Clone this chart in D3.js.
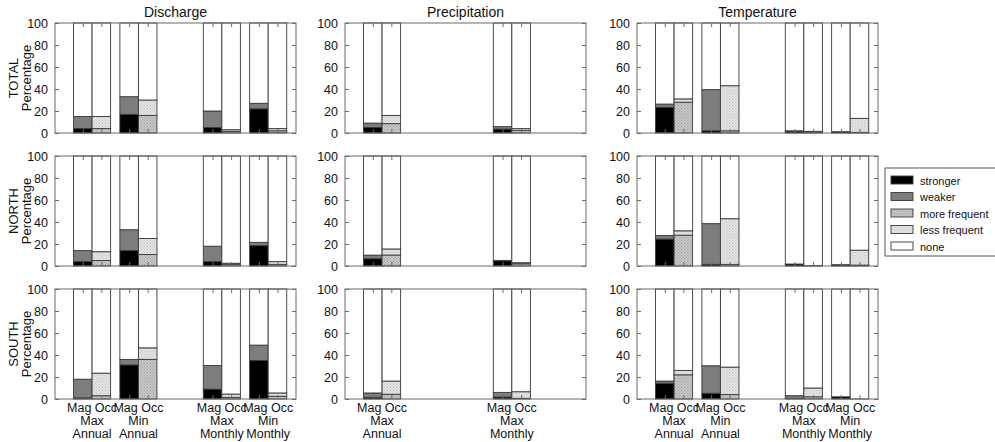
<!DOCTYPE html>
<html>
<head>
<meta charset="utf-8">
<script src="https://cdn.jsdelivr.net/npm/d3@7"></script>
<style>
  body { margin: 0; background: #fff; }
  #chart { width: 995px; height: 442px; }
  text { font-family: "Liberation Sans", Arial, sans-serif; fill: #111; }
</style>
</head>
<body>
<div id="chart"></div>
<script>

// categories
const variables = ["Discharge", "Precipitation", "Temperature"];
const regions = ["TOTAL", "NORTH", "SOUTH"];
const groupNames = [["Max", "Annual"], ["Min", "Annual"], ["Max", "Monthly"], ["Min", "Monthly"]];
// x of each group in the original axis units (Mag bar starts here, Occ bar follows)
const groupX = [1, 3.5, 8, 10.5];
const yTicks = [0, 20, 40, 60, 80, 100];
const categories = ["stronger", "weaker", "more frequent", "less frequent", "none"];

// values, rows = TOTAL, NORTH, SOUTH ; columns = groups (null = not shown)
const dischargeStronger = [[4, 17, 5, 22], [4, 14, 4, 18.5], [1, 31, 9, 35]];
const dischargeWeaker   = [[11, 16, 15, 5], [10, 19, 14, 3], [17, 5, 21.5, 14]];
const dischargeMore     = [[4, 16, 1.5, 2], [5, 10.5, 1.5, 1.5], [3, 36, 1.5, 2.5]];
const dischargeLess     = [[11, 14, 1.5, 2], [8, 14.5, 1, 2.5], [20.5, 10.5, 3, 3]];

const precipStronger = [[5, null, 3.6, null], [6.6, null, 4.8, null], [1.5, null, 1.8, null]];
const precipWeaker   = [[4, null, 2.2, null], [3.3, null, 0.3, null], [4, null, 4.2, null]];
const precipMore     = [[8.5, null, 2.4, null], [10, null, 2, null], [4.3, null, 0.6, null]];
const precipLess     = [[7.5, null, 1.6, null], [5.5, null, 1, null], [12, null, 6, null]];

const tempStronger = [[23.3, 2, 1.5, 1.2], [24.5, 1.5, 1.8, 1.2], [14.3, 5.2, 0.5, 2]];
const tempWeaker   = [[3, 37.4, 0.5, 0], [3.3, 37, 0, 0], [2, 25, 2.5, 0]];
const tempMore     = [[28, 2, 1, 0.6], [28, 1.5, 0.3, 0.8], [22, 4, 2, 0]];
const tempLess     = [[3, 41, 0.5, 12.7], [4, 41.5, 0, 13.6], [4, 25, 8, 0]];

const panelData = [
  [dischargeStronger, dischargeWeaker, dischargeMore, dischargeLess],
  [precipStronger, precipWeaker, precipMore, precipLess],
  [tempStronger, tempWeaker, tempMore, tempLess]
];

const width = 995, height = 442;
const colLeft = [55, 345, 637];
const rowTop = [23, 156, 289];
const pw = 241, ph = 110;

const svg = d3.select("#chart").append("svg")
    .attr("width", width)
    .attr("height", height);

/*
PATTERNS FOR HATCHED FILLS
*/
const defs = svg.append("defs");
function dotPattern(id, base, dot) {
    const p = defs.append("pattern")
        .attr("id", id)
        .attr("width", 3).attr("height", 3)
        .attr("patternUnits", "userSpaceOnUse");
    p.append("rect").attr("width", 3).attr("height", 3).attr("fill", base);
    p.append("rect").attr("x", 0).attr("y", 0).attr("width", 1).attr("height", 1).attr("fill", dot);
    p.append("rect").attr("x", 1.5).attr("y", 1.5).attr("width", 1).attr("height", 1).attr("fill", dot);
}
dotPattern("moreHatch", "#c8c8c8", "#999");
dotPattern("lessHatch", "#e4e4e4", "#c2c2c2");

const fills = {
    "stronger": "#000",
    "weaker": "#7d7d7d",
    "more frequent": "url(#moreHatch)",
    "less frequent": "url(#lessHatch)",
    "none": "#fff"
};

const yScale = d3.scaleLinear().domain([0, 100]);

variables.forEach(function(v, c) {
    const xScale = d3.scaleLinear()
        .domain([0, 13])
        .range([colLeft[c], colLeft[c] + pw]);

    // title
    svg.append("text")
        .attr("x", colLeft[c] + pw / 2)
        .attr("y", 17)
        .attr("text-anchor", "middle")
        .style("font-size", "14px")
        .text(v);

    regions.forEach(function(r, ri) {
        const top = rowTop[ri];
        yScale.range([top + ph, top]);
        const g = svg.append("g");

        const [st, we, mo, le] = panelData[c].map(function(a) { return a[ri]; });

        groupX.forEach(function(gx, gi) {
            if (st[gi] === null) return;
            const mag = [["stronger", st[gi]], ["weaker", we[gi]]];
            const occ = [["more frequent", mo[gi]], ["less frequent", le[gi]]];
            [mag, occ].forEach(function(parts, k) {
                let acc = 0;
                const segs = parts.map(function(p) {
                    const s = {cat: p[0], y0: acc, y1: acc + p[1]};
                    acc += p[1];
                    return s;
                });
                segs.push({cat: "none", y0: acc, y1: 100});
                g.selectAll(null)
                    .data(segs)
                    .enter()
                    .append("rect")
                    .attr("x", xScale(gx + k))
                    .attr("width", xScale(gx + k + 1) - xScale(gx + k))
                    .attr("y", function(d) { return yScale(d.y1); })
                    .attr("height", function(d) { return yScale(d.y0) - yScale(d.y1); })
                    .attr("fill", function(d) { return fills[d.cat]; })
                    .attr("stroke", "#3a3a3a")
                    .attr("stroke-width", 0.9);
            });
        });

        // frame
        g.append("rect")
            .attr("x", colLeft[c]).attr("y", top)
            .attr("width", pw).attr("height", ph)
            .attr("fill", "none")
            .attr("stroke", "#6a6a6a")
            .attr("stroke-width", 1);

        // y axis (left labels, inner ticks both sides)
        const yAxis = svg.append("g")
            .attr("transform", `translate(${colLeft[c]},0)`)
            .call(d3.axisLeft(yScale).tickValues(yTicks).tickSizeInner(-4).tickSizeOuter(0).tickPadding(7));
        yAxis.select(".domain").remove();
        yAxis.selectAll("line").attr("stroke", "#6a6a6a");
        yAxis.selectAll("text").style("font-size", "12.5px").attr("fill", "#111");

        const yRight = svg.append("g")
            .attr("transform", `translate(${colLeft[c] + pw},0)`)
            .call(d3.axisRight(yScale).tickValues(yTicks).tickSizeInner(-4).tickSizeOuter(0).tickFormat(""));
        yRight.select(".domain").remove();
        yRight.selectAll("line").attr("stroke", "#6a6a6a");

        // x ticks at bar centres, top and bottom
        const xt = [];
        groupX.forEach(function(gx, gi) {
            if (st[gi] !== null) xt.push(gx + 0.5, gx + 1.5);
        });
        const xb = svg.append("g")
            .attr("transform", `translate(0,${top + ph})`)
            .call(d3.axisBottom(xScale).tickValues(xt).tickSizeInner(-4).tickSizeOuter(0).tickFormat(""));
        xb.select(".domain").remove();
        xb.selectAll("line").attr("stroke", "#6a6a6a");
        const xtop = svg.append("g")
            .attr("transform", `translate(0,${top})`)
            .call(d3.axisTop(xScale).tickValues(xt).tickSizeInner(-4).tickSizeOuter(0).tickFormat(""));
        xtop.select(".domain").remove();
        xtop.selectAll("line").attr("stroke", "#6a6a6a");

        // x labels on bottom row: one three-line label per group
        if (ri === regions.length - 1) {
            groupX.forEach(function(gx, gi) {
                if (st[gi] === null) return;
                const lab = svg.append("text")
                    .attr("text-anchor", "middle")
                    .style("font-size", "12.5px");
                const cx = xScale(gx + 1);
                [["Mag Occ", 412], [groupNames[gi][0], 424.5], [groupNames[gi][1], 437.5]].forEach(function(l) {
                    lab.append("tspan").attr("x", cx).attr("y", l[1]).text(l[0]);
                });
            });
        }

        // y label on first column
        if (c === 0) {
            const mid = top + ph / 2;
            svg.append("text")
                .attr("transform", `translate(18,${mid}) rotate(-90)`)
                .attr("text-anchor", "middle")
                .style("font-size", "13px")
                .text(r);
            svg.append("text")
                .attr("transform", `translate(31,${mid}) rotate(-90)`)
                .attr("text-anchor", "middle")
                .style("font-size", "13px")
                .text("Percentage");
        }
    });
});

/*
LEGEND
*/
const legend = svg.append("g").attr("transform", "translate(885,168)");
legend.append("rect")
    .attr("x", 0).attr("y", 0)
    .attr("width", 125).attr("height", 88)
    .attr("fill", "#fff")
    .attr("stroke", "#555");
const items = legend.selectAll(".item")
    .data(categories)
    .enter()
    .append("g")
    .attr("class", "item")
    .attr("transform", function(d, i) { return `translate(0,${12 + i * 16.5})`; });
items.append("rect")
    .attr("x", 6).attr("y", -4)
    .attr("width", 22).attr("height", 8)
    .attr("fill", function(d) { return fills[d]; })
    .attr("stroke", "#3a3a3a")
    .attr("stroke-width", 0.9);
items.append("text")
    .attr("x", 35).attr("y", 4.5)
    .style("font-size", "11px")
    .text(function(d) { return d; });

</script>
</body>
</html>
